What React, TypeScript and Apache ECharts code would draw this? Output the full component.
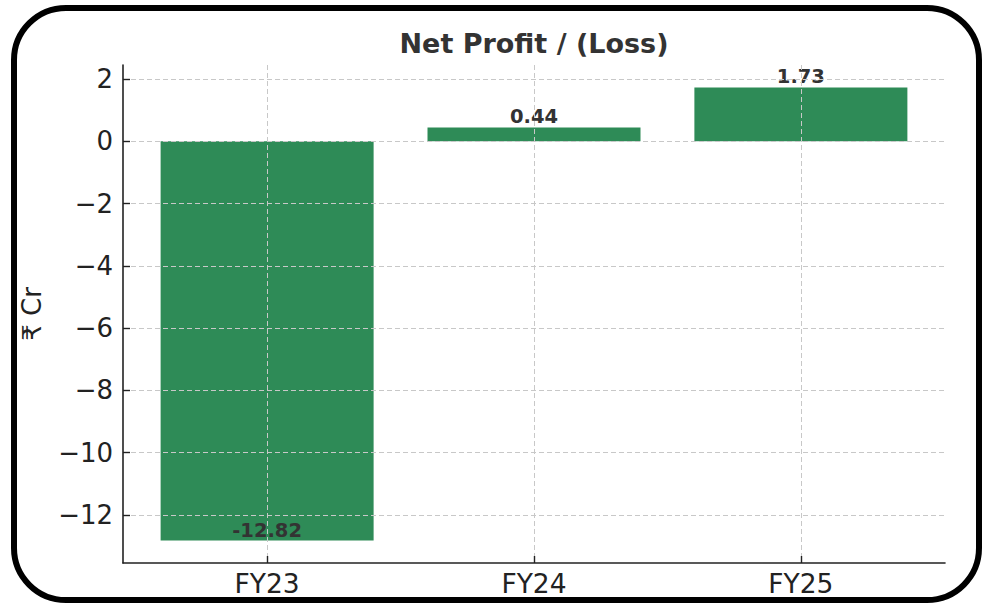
import React, { useEffect, useRef } from "react";
import * as echarts from "echarts";

const categories = ["FY23", "FY24", "FY25"];
const profitValues = [-12.82, 0.44, 1.73];
const yTickValues = [-12, -10, -8, -6, -4, -2, 0, 2];
const xTickValues = [0, 1, 2];

const FONT = "DejaVu Sans";

export default function App() {
  const ref = useRef<HTMLDivElement>(null);

  useEffect(() => {
    document.body.style.margin = "0";
    if (!ref.current) return;
    const chart = echarts.init(ref.current, undefined, { renderer: "svg" });

    const data = categories.map((c, i) => ({
      value: [i, profitValues[i]],
      label:
        profitValues[i] < 0
          ? { position: "insideBottom", distance: 0 }
          : { position: "top", distance: 1 },
    }));

    const gridLine = {
      show: true,
      lineStyle: { color: "#c8c8c8", width: 1, type: [5, 3] },
    };

    chart.setOption({
      animation: false,
      backgroundColor: "#ffffff",
      title: {
        text: "Net Profit / (Loss)",
        left: 529,
        textAlign: "center",
        top: 25,
        textStyle: {
          fontFamily: FONT,
          fontSize: 27,
          fontWeight: "bold",
          color: "#333333",
        },
      },
      grid: { left: 123, right: 50, top: 65, bottom: 47, containLabel: false },
      xAxis: {
        type: "value",
        min: -0.54,
        max: 2.54,
        z: 5,
        axisLine: { show: true, onZero: false, lineStyle: { color: "#222222", width: 1.6 } },
        axisTick: {
          show: true,
          inside: true,
          length: 7,
          customValues: xTickValues,
          lineStyle: { color: "#222222", width: 1.4 },
        },
        axisLabel: {
          customValues: xTickValues,
          formatter: (v: number) => categories[Math.round(v)] ?? "",
          fontFamily: FONT,
          fontSize: 26.5,
          color: "#222222",
          margin: 7,
        },
        splitLine: gridLine,
      },
      yAxis: {
        type: "value",
        min: -13.54,
        max: 2.45,
        z: 5,
        name: "₹ Cr",
        nameLocation: "middle",
        nameRotate: 90,
        nameGap: 78,
        nameTextStyle: { fontFamily: FONT, fontSize: 26, color: "#222222" },
        axisLine: { show: true, onZero: false, lineStyle: { color: "#222222", width: 1.6 } },
        axisTick: {
          show: true,
          inside: true,
          length: 7,
          customValues: yTickValues,
          lineStyle: { color: "#222222", width: 1.4 },
        },
        axisLabel: {
          customValues: yTickValues,
          formatter: (v: number) => String(v).replace("-", "\u2212"),
          fontFamily: FONT,
          fontSize: 26,
          color: "#222222",
          margin: 10,
        },
        splitLine: gridLine,
      },
      series: [
        {
          type: "bar",
          data,
          barWidth: 213,
          itemStyle: { color: "#2e8b57" },
          label: {
            show: true,
            formatter: (p: any) => profitValues[p.dataIndex].toFixed(2),
            fontFamily: FONT,
            fontSize: 19.5,
            fontWeight: "bold",
            color: "#333333",
          },
        },
      ],
      graphic: [
        {
          type: "rect",
          z: 100,
          shape: { x: 14, y: 8, width: 965, height: 592, r: 52 },
          style: { fill: "none", stroke: "#000000", lineWidth: 6 },
        },
      ],
    });

    return () => chart.dispose();
  }, []);

  return <div ref={ref} style={{ width: 995, height: 610 }} />;
}
